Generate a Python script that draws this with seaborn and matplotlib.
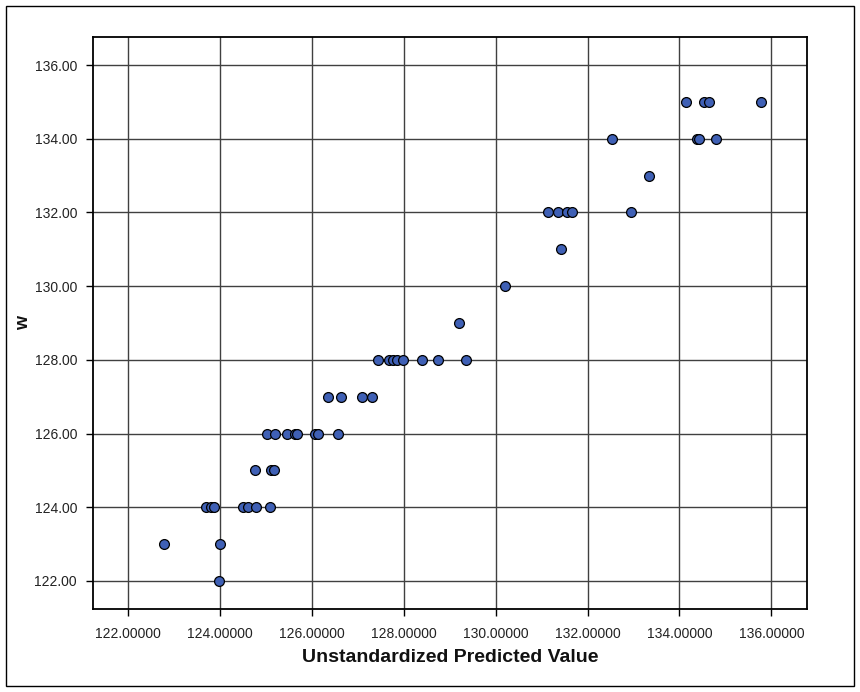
import matplotlib
matplotlib.use("Agg")
import matplotlib.pyplot as plt
from matplotlib.patches import Rectangle
from matplotlib.ticker import FormatStrFormatter
import pandas as pd
import seaborn as sns

# Observed w against the regression's unstandardized predicted value
predicted = [
    123.98,
    122.77, 124.00,
    123.68, 123.80, 123.87, 124.50, 124.60, 124.78, 125.08,
    124.75, 125.10, 125.18,
    125.02, 125.20, 125.45, 125.62, 125.67, 126.07, 126.13, 126.56,
    126.34, 126.63, 127.08, 127.30,
    127.43, 127.68, 127.76, 127.84, 127.99, 128.39, 128.75, 129.35,
    129.20,
    130.21,
    131.43,
    131.14, 131.36, 131.55, 131.67, 132.95,
    133.34,
    132.53, 134.38, 134.43, 134.80,
    134.15, 134.53, 134.64, 135.78,
]
w = [
    122,
    123, 123,
    124, 124, 124, 124, 124, 124, 124,
    125, 125, 125,
    126, 126, 126, 126, 126, 126, 126, 126,
    127, 127, 127, 127,
    128, 128, 128, 128, 128, 128, 128, 128,
    129,
    130,
    131,
    132, 132, 132, 132, 132,
    133,
    134, 134, 134, 134,
    135, 135, 135, 135,
]
x_ticks = [122, 124, 126, 128, 130, 132, 134, 136]
y_ticks = [122, 124, 126, 128, 130, 132, 134, 136]

df = pd.DataFrame({"Unstandardized Predicted Value": predicted, "w": w})

sns.set_theme(style="white")
plt.rcParams["font.family"] = ["Liberation Sans", "DejaVu Sans"]

fig = plt.figure(figsize=(8.6, 6.92), dpi=100)
ax = fig.add_axes([93 / 860, 1 - 609.3 / 692, 713.7 / 860, 572.3 / 692])

sns.scatterplot(
    data=df, x="Unstandardized Predicted Value", y="w", ax=ax,
    s=50, color="#3F60B5", edgecolor="black", linewidth=0.9, zorder=3,
)

ax.set_xlim(121.23, 136.77)
ax.set_ylim(121.23, 136.76)
ax.set_xticks(x_ticks)
ax.set_yticks(y_ticks)
ax.xaxis.set_major_formatter(FormatStrFormatter("%.5f"))
ax.yaxis.set_major_formatter(FormatStrFormatter("%.2f"))

ax.grid(True, color="#404040", linewidth=1.0, zorder=0)
ax.set_axisbelow(True)
for sp in ax.spines.values():
    sp.set_color("black")
    sp.set_linewidth(1.3)

ax.tick_params(axis="both", direction="out", length=5, width=1.0, color="black",
               labelsize=10, labelcolor="#222222", bottom=True, left=True)
ax.tick_params(axis="x", pad=7.5)
ax.tick_params(axis="y", pad=6.5)

ax.set_xlabel("Unstandardized Predicted Value", fontsize=14, fontweight="bold",
              color="#111111", labelpad=6)
ax.set_ylabel("w", fontsize=13, fontweight="bold", color="#111111", labelpad=2)

# thin frame around the whole chart
fig.patches.append(Rectangle((6 / 860, 6 / 692), 848 / 860, 680 / 692,
                             transform=fig.transFigure, fill=False,
                             edgecolor="black", linewidth=1.0))

fig.savefig("out.png", dpi=100)
